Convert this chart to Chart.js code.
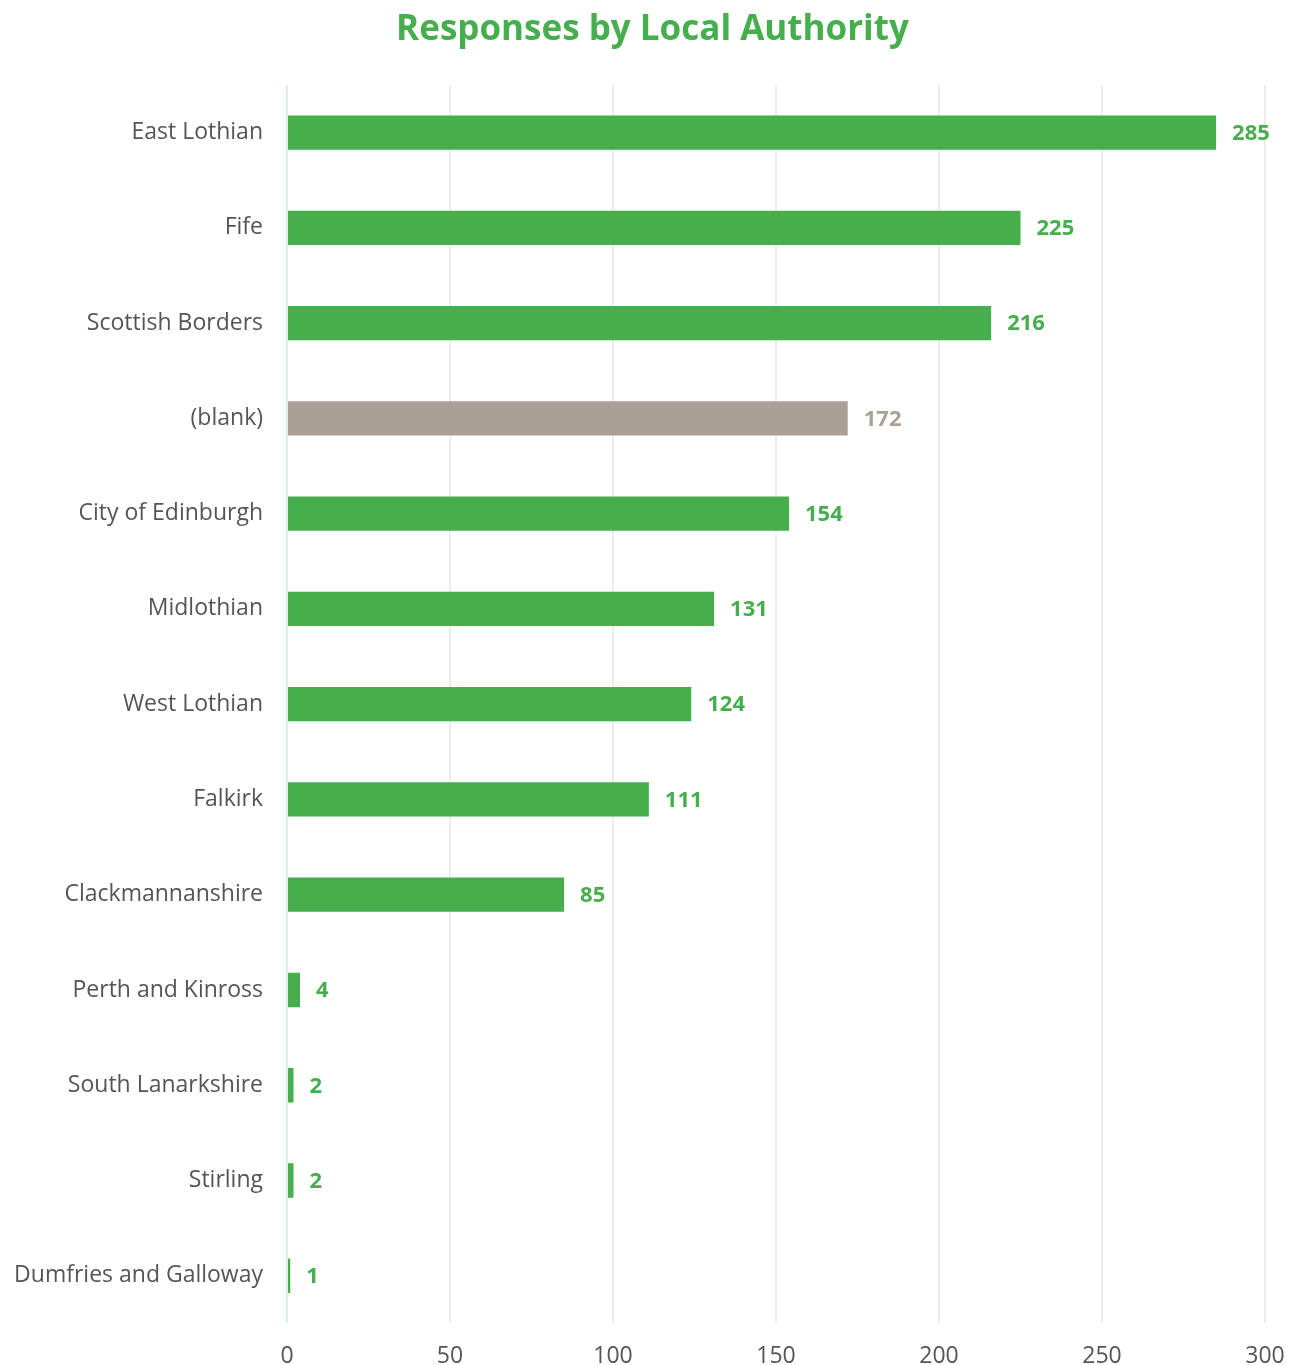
<!DOCTYPE html>
<html>
<head>
<meta charset="utf-8">
<title>Responses by Local Authority</title>
<script src="https://cdn.jsdelivr.net/npm/chart.js@4.4.0/dist/chart.umd.min.js"></script>
<style>
  html, body { margin: 0; padding: 0; background: #fff; }
  #wrap { width: 1297px; height: 1365px; }
</style>
</head>
<body>
<div id="wrap"><canvas id="chart"></canvas></div>
<script>
const authorities = [
  "East Lothian", "Fife", "Scottish Borders", "(blank)", "City of Edinburgh",
  "Midlothian", "West Lothian", "Falkirk", "Clackmannanshire", "Perth and Kinross",
  "South Lanarkshire", "Stirling", "Dumfries and Galloway"
];
const responses = [285, 225, 216, 172, 154, 131, 124, 111, 85, 4, 2, 2, 1];
const xTicks = [0, 50, 100, 150, 200, 250, 300];

const GREEN = "#46ae4c";
const GREY = "#aba096";
const FONT = "'Open Sans'";
const barColors = authorities.map(a => (a === "(blank)" ? GREY : GREEN));

// value labels at the end of each bar
const valueLabels = {
  id: "valueLabels",
  afterDatasetsDraw(chart) {
    const ctx = chart.ctx;
    const meta = chart.getDatasetMeta(0);
    ctx.save();
    ctx.font = "bold 22px " + FONT;
    ctx.textBaseline = "middle";
    ctx.textAlign = "left";
    meta.data.forEach((bar, i) => {
      ctx.fillStyle = barColors[i];
      ctx.fillText(String(responses[i]), bar.x + 16, bar.y + 1);
    });
    ctx.restore();
  }
};

new Chart(document.getElementById("chart").getContext("2d"), {
  type: "bar",
  data: {
    labels: authorities,
    datasets: [{
      data: responses,
      backgroundColor: barColors,
      borderWidth: 0,
      barPercentage: 0.36,
      categoryPercentage: 1
    }]
  },
  options: {
    indexAxis: "y",
    responsive: true,
    maintainAspectRatio: false,
    animation: false,
    layout: { padding: { left: 8, right: 0, top: 0, bottom: -24 } },
    plugins: {
      legend: { display: false },
      tooltip: { enabled: false },
      title: {
        display: true,
        text: "Responses by Local Authority",
        color: GREEN,
        font: { family: FONT, size: 35, weight: "bold" },
        padding: { top: 9, bottom: 34 }
      }
    },
    scales: {
      x: {
        min: 0,
        max: 300,
        afterBuildTicks(axis) {
          axis.ticks = xTicks.map(v => ({ value: v }));
        },
        afterFit(axis) {
          axis.paddingLeft = 0;
          axis.paddingRight = 32;
        },
        border: { display: false },
        grid: {
          color: ctx => (ctx.index === 0 ? "#dcf2dc" : "#ececec"),
          lineWidth: 2,
          drawTicks: false
        },
        ticks: {
          color: "#555",
          padding: 19,
          font: { family: FONT, size: 23 }
        }
      },
      y: {
        afterFit(axis) {
          axis.width = 279;
        },
        border: { display: false },
        grid: { display: false, drawTicks: false },
        ticks: {
          color: "#555",
          padding: 24,
          font: { family: FONT, size: 23 }
        }
      }
    }
  },
  plugins: [valueLabels]
});
</script>
</body>
</html>
